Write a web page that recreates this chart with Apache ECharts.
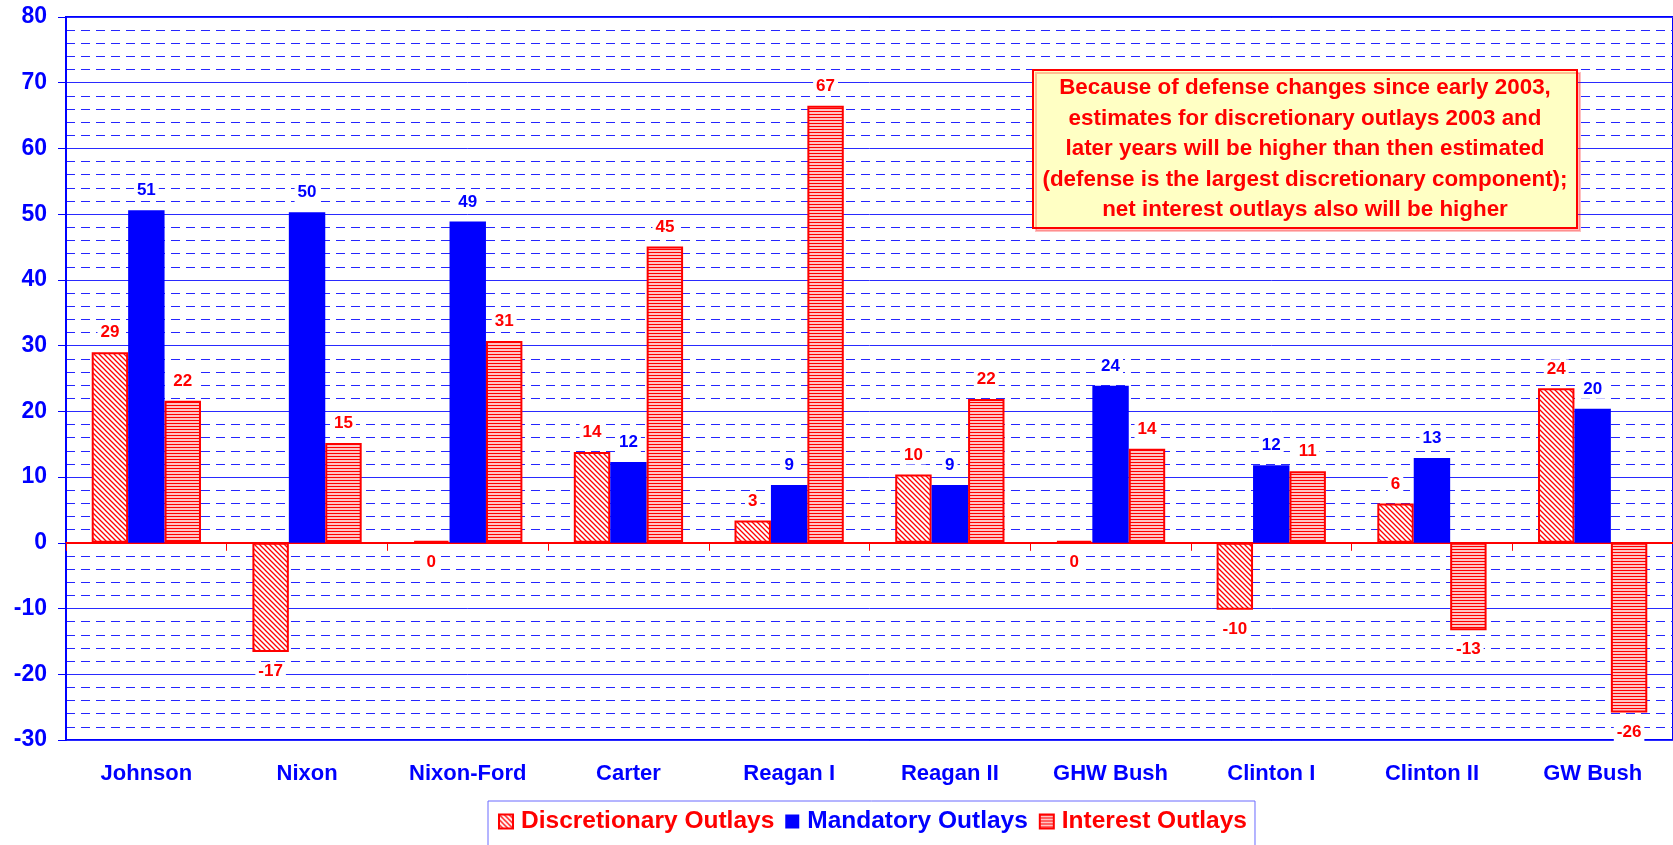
<!DOCTYPE html>
<html>
<head>
<meta charset="utf-8">
<script src="https://cdn.jsdelivr.net/npm/echarts@6/dist/echarts.min.js"></script>
<style>
  html, body { margin: 0; padding: 0; background: #fff; }
  #chart { width: 1673px; height: 845px; }
</style>
</head>
<body>
<div id="chart"></div>
<script>
// data (billions, change over each term)
const presidents = ['Johnson', 'Nixon', 'Nixon-Ford', 'Carter', 'Reagan I', 'Reagan II', 'GHW Bush', 'Clinton I', 'Clinton II', 'GW Bush']
const discretionary = [29.0, -16.6, 0.3, 13.8, 3.4, 10.4, 0.3, -10.2, 6.0, 23.5]
const mandatory = [50.6, 50.3, 48.9, 12.3, 8.8, 8.8, 23.9, 11.8, 12.9, 20.4]
const interest = [21.6, 15.2, 30.7, 45.1, 66.5, 21.9, 14.3, 10.9, -13.3, -25.8]
const seriesNames = ['Discretionary Outlays', 'Mandatory Outlays', 'Interest Outlays']
const noteLines = [
    'Because of defense changes since early 2003,',
    'estimates for discretionary outlays 2003 and',
    'later years will be higher than then estimated',
    '(defense is the largest discretionary component);',
    'net interest outlays also will be higher'
]

const FONT = '"Liberation Sans", Arial, sans-serif'
const RED = '#ff0000'
const BLUE = '#0000ff'

// diagonal hatch  (\\\) for discretionary
function diagPattern() {
    const c = document.createElement('canvas')
    c.width = 5; c.height = 5
    const ctx = c.getContext('2d')
    ctx.fillStyle = '#fff'
    ctx.fillRect(0, 0, 5, 5)
    ctx.strokeStyle = RED
    ctx.lineWidth = 1.3
    ctx.beginPath()
    ctx.moveTo(-1, -1); ctx.lineTo(6, 6)
    ctx.moveTo(-1, 4); ctx.lineTo(1, 6)
    ctx.moveTo(4, -1); ctx.lineTo(6, 1)
    ctx.stroke()
    return c
}

// horizontal stripes for interest
function stripePattern() {
    const c = document.createElement('canvas')
    c.width = 4; c.height = 3
    const ctx = c.getContext('2d')
    ctx.fillStyle = '#ffc4c4'
    ctx.fillRect(0, 0, 4, 3)
    ctx.fillStyle = RED
    ctx.fillRect(0, 0, 4, 1)
    return c
}

function barLabel(color) {
    return {
        show: true,
        position: 'outside',
        distance: 10,
        color: color,
        fontFamily: FONT,
        fontWeight: 'bold',
        fontSize: 17,
        backgroundColor: '#fff',
        padding: [1, 3],
        formatter: p => Math.round(p.value)
    }
}

const myChart = echarts.init(document.getElementById('chart'))

const option = {
    animation: false,
    textStyle: { fontFamily: FONT },
    grid: {
        left: 66, right: 0, top: 17, bottom: 105,
        show: true, borderColor: BLUE, borderWidth: 2
    },
    legend: {
        left: 488, top: 801,
        padding: [8, 8, 30, 10],
        borderColor: '#6a6aff', borderWidth: 1,
        icon: 'rect',
        itemWidth: 14, itemHeight: 14, itemGap: 11,
        textStyle: { fontFamily: FONT, fontWeight: 'bold', fontSize: 24.5, padding: [0, 0, 0, 3] },
        data: [
            { name: seriesNames[0], textStyle: { color: RED } },
            { name: seriesNames[1], textStyle: { color: BLUE } },
            { name: seriesNames[2], textStyle: { color: RED } }
        ]
    },
    xAxis: [
        {
            type: 'category',
            data: presidents,
            position: 'bottom',
            axisLine: { show: false, onZero: false },
            axisTick: { show: false },
            axisLabel: { color: BLUE, fontWeight: 'bold', fontSize: 22, margin: 23, fontFamily: FONT }
        },
        {
            // red zero line with ticks between categories
            type: 'category',
            data: presidents,
            position: 'bottom',
            axisLine: { show: true, onZero: true, lineStyle: { color: RED, width: 2 } },
            axisTick: { show: true, length: 8, lineStyle: { color: RED, width: 1 } },
            axisLabel: { show: false }
        }
    ],
    yAxis: {
        type: 'value',
        min: -30, max: 80, interval: 10,
        axisLine: { show: true, lineStyle: { color: BLUE, width: 2 } },
        axisTick: { show: true, length: 8, lineStyle: { color: BLUE } },
        axisLabel: { color: BLUE, fontWeight: 'bold', fontSize: 23, margin: 19, fontFamily: FONT },
        splitLine: { lineStyle: { color: '#2a2aff', width: 1 } },
        minorTick: { show: false, splitNumber: 5 },
        minorSplitLine: { show: true, lineStyle: { color: '#2626ff', width: 1, type: [9, 6] } }
    },
    series: [
        {
            name: seriesNames[0],
            type: 'bar',
            barGap: 0,
            barCategoryGap: '32%',
            data: discretionary,
            itemStyle: { color: { image: diagPattern(), repeat: 'repeat' }, borderColor: RED, borderWidth: 2 },
            label: barLabel(RED)
        },
        {
            name: seriesNames[1],
            type: 'bar',
            data: mandatory,
            itemStyle: { color: BLUE },
            label: barLabel(BLUE)
        },
        {
            name: seriesNames[2],
            type: 'bar',
            data: interest,
            itemStyle: { color: { image: stripePattern(), repeat: 'repeat' }, borderColor: RED, borderWidth: 2 },
            label: barLabel(RED)
        }
    ],
    graphic: [
        {
            type: 'rect',
            shape: { x: 1033, y: 70, width: 544, height: 158 },
            style: { fill: '#ffffc4', stroke: RED, lineWidth: 2, shadowColor: 'rgba(255,0,0,0.25)', shadowOffsetX: 3, shadowOffsetY: 3 },
            z: 100
        },
        {
            type: 'text',
            style: {
                x: 1305, y: 149,
                text: noteLines.join('\n'),
                fill: RED,
                font: 'bold 22.4px ' + FONT,
                textAlign: 'center',
                textVerticalAlign: 'middle',
                lineHeight: 30.5
            },
            z: 101
        }
    ]
}

myChart.setOption(option, true)
</script>
</body>
</html>
